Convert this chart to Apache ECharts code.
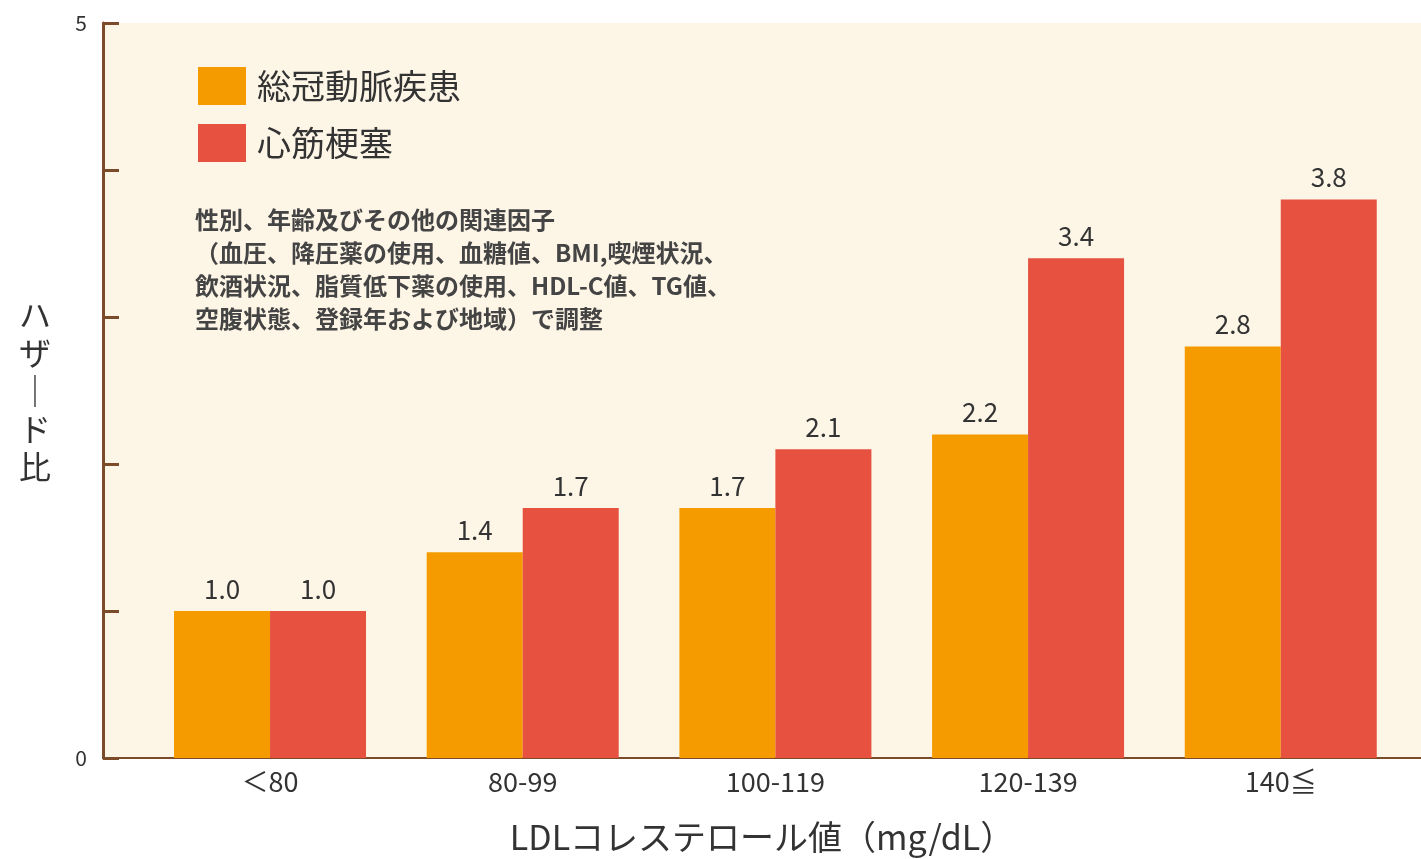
<!DOCTYPE html>
<html>
<head>
<meta charset="utf-8">
<script src="https://cdn.jsdelivr.net/npm/echarts@6/dist/echarts.min.js"></script>
<style>
html,body{margin:0;padding:0;background:#fff;}
#chart{width:1421px;height:859px;}
</style>
</head>
<body>
<div id="chart"></div>
<script>
const categories = ['＜80', '80-99', '100-119', '120-139', '140≦'];
const seriesNames = ['総冠動脈疾患', '心筋梗塞'];
const totalCHD = [1.0, 1.4, 1.7, 2.2, 2.8];
const myocardialInfarction = [1.0, 1.7, 2.1, 3.4, 3.8];
const yTickLabels = { 0: '0', 5: '5' };
const noteLines = [
  '性別、年齢及びその他の関連因子',
  '（血圧、降圧薬の使用、血糖値、BMI,喫煙状況、',
  '飲酒状況、脂質低下薬の使用、HDL-C値、TG値、',
  '空腹状態、登録年および地域）で調整'
];
const yName = 'ハザード比';
const xName = 'LDLコレステロール値（mg/dL）';

const FONT = '"Noto Sans CJK JP", "Noto Sans", sans-serif';
const AXIS = '#7b4b2a';
const TXT = '#333333';

const chart = echarts.init(document.getElementById('chart'));
const idx = categories.map((_, i) => i);

function barSeries(name, values, color) {
  return {
    name: name,
    type: 'bar',
    data: values.map((v, i) => [i, v]),
    barWidth: 96,
    barGap: '0%',
    itemStyle: { color: color },
    label: {
      show: true,
      position: 'top',
      distance: 9,
      fontFamily: FONT,
      fontSize: 26,
      color: TXT,
      formatter: p => p.value[1].toFixed(1)
    }
  };
}

chart.setOption({
  animation: false,
  textStyle: { fontFamily: FONT },
  grid: {
    left: 103, right: 0, top: 23, bottom: 97,
    show: true, backgroundColor: '#fdf5e6', borderWidth: 0
  },
  title: {
    text: noteLines.join('\n'),
    left: 190, top: 198,
    textStyle: { fontFamily: FONT, fontSize: 24, fontWeight: 'bold', lineHeight: 33, color: '#444' }
  },
  legend: {
    data: seriesNames,
    orient: 'vertical',
    left: 193, top: 62,
    itemWidth: 48, itemHeight: 38, itemGap: 19,
    icon: 'rect',
    textStyle: { fontFamily: FONT, fontSize: 34, color: TXT, padding: [0, 0, 0, 6] }
  },
  xAxis: {
    type: 'value',
    min: -0.661, max: 4.555,
    splitLine: { show: false },
    axisLine: { show: true, lineStyle: { color: AXIS, width: 2 } },
    axisTick: { show: false },
    axisLabel: {
      customValues: idx,
      formatter: v => categories[Math.round(v)] || '',
      fontFamily: FONT, fontSize: 27, color: TXT, margin: 10
    },
    name: xName,
    nameLocation: 'middle',
    nameGap: 62,
    nameTextStyle: { fontFamily: FONT, fontSize: 34, color: TXT }
  },
  yAxis: {
    type: 'value',
    min: 0, max: 5, interval: 1,
    splitLine: { show: false },
    axisLine: { show: true, onZero: false, lineStyle: { color: AXIS, width: 3 } },
    axisTick: { show: true, inside: true, length: 16, lineStyle: { color: AXIS, width: 3 } },
    axisLabel: {
      formatter: v => yTickLabels[v] || '',
      fontFamily: FONT, fontSize: 21, color: TXT, margin: 16
    },
    name: yName.split('').map(c => c === 'ー' ? '｜' : c).join('\n'),
    nameLocation: 'middle',
    nameRotate: 0,
    nameGap: 68,
    nameTextStyle: { fontFamily: FONT, fontSize: 32, lineHeight: 38, color: TXT, align: 'center' }
  },
  series: [
    barSeries(seriesNames[0], totalCHD, '#f59b00'),
    barSeries(seriesNames[1], myocardialInfarction, '#e65140')
  ]
});
</script>
</body>
</html>
